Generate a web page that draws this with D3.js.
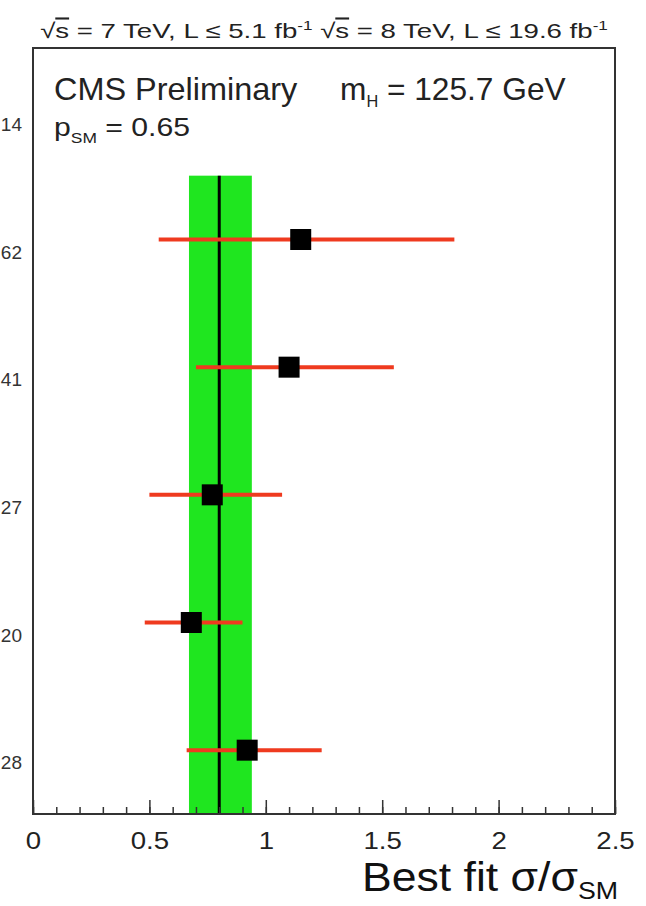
<!DOCTYPE html>
<html>
<head>
<meta charset="utf-8">
<script src="https://cdn.jsdelivr.net/npm/d3@7"></script>
<style>
  body { margin: 0; background: #fff; }
  svg { display: block; }
  text { font-family: "Liberation Sans", Arial, Helvetica, sans-serif; }
</style>
</head>
<body>
<svg id="chart" width="646" height="906"></svg>
<script>
// Signal strength per decay channel (best fit and asymmetric uncertainties)
const channels = ["Combined", "H→bb", "H→ττ", "H→γγ", "H→WW", "H→ZZ"];
const muHat    = [0.80, 1.15, 1.10, 0.77, 0.68, 0.92];
const errLow   = [0.13, 0.61, 0.40, 0.27, 0.20, 0.26];
const errHigh  = [0.14, 0.66, 0.45, 0.30, 0.22, 0.32];
// trailing digits of the per-channel uncertainty labels, which run off the left edge
const labelTails = ["14", "62", "41", "27", "20", "28"];
const majorTicks = [0, 0.5, 1, 1.5, 2, 2.5];
const minorTicks = d3.range(0, 26).map(i => i / 10);

const svg = d3.select("#chart");
const frame = { left: 33, right: 615, top: 48, bottom: 814 };

const x = d3.scaleLinear().domain([0, 2.5]).range([frame.left, frame.right]);
const y = d3.scaleBand().domain(channels).range([frame.top, frame.bottom]);
const rowMid = c => y(c) + y.bandwidth() / 2;

const rows = channels.map((c, i) => ({
  name: c, mu: muHat[i], lo: muHat[i] - errLow[i], hi: muHat[i] + errHigh[i], tail: labelTails[i]
}));
const combined = rows[0];
const fits = rows.slice(1);

// stretch a text horizontally about its anchor so it spans the given width
function fitWidth(sel, anchorX, width) {
  const w = sel.node().getBBox().width;
  const s = width / w;
  sel.attr("transform", `translate(${anchorX},0) scale(${s},1) translate(${-anchorX},0)`);
}

// combined uncertainty band and central value
svg.append("rect")
  .attr("x", x(combined.lo))
  .attr("width", x(combined.hi) - x(combined.lo))
  .attr("y", y(fits[0].name))
  .attr("height", frame.bottom - y(fits[0].name))
  .attr("fill", "#1fe61f");

svg.append("line")
  .attr("x1", x(combined.mu)).attr("x2", x(combined.mu))
  .attr("y1", y(fits[0].name)).attr("y2", frame.bottom)
  .attr("stroke", "#000").attr("stroke-width", 3);

// per-channel error bars and markers
const g = svg.append("g");
g.selectAll("line.err").data(fits).join("line")
  .attr("class", "err")
  .attr("x1", d => x(d.lo)).attr("x2", d => x(d.hi))
  .attr("y1", d => rowMid(d.name)).attr("y2", d => rowMid(d.name))
  .attr("stroke", "#ef3a1f").attr("stroke-width", 4);

const ms = 21;
g.selectAll("rect.pt").data(fits).join("rect")
  .attr("class", "pt")
  .attr("x", d => x(d.mu) - ms / 2).attr("y", d => rowMid(d.name) - ms / 2)
  .attr("width", ms).attr("height", ms)
  .attr("fill", "#000");

// x axis: minor and major ticks pointing into the frame
svg.append("g")
  .attr("transform", `translate(0,${frame.bottom})`)
  .call(d3.axisBottom(x).tickValues(minorTicks).tickSize(-7).tickFormat(""))
  .call(a => a.select(".domain").remove())
  .call(a => a.selectAll("line").attr("stroke", "#333").attr("stroke-width", 1.5));

svg.append("g")
  .attr("transform", `translate(0,${frame.bottom})`)
  .call(d3.axisBottom(x).tickValues(majorTicks).tickSize(-14).tickPadding(18)
        .tickFormat(d => d3.format("")(d)))
  .call(a => a.select(".domain").remove())
  .call(a => a.selectAll("line").attr("stroke", "#333").attr("stroke-width", 1.5))
  .call(a => a.selectAll("text").attr("font-size", 24).attr("fill", "#222")
        .attr("transform", "scale(1.15,1)")
        .style("font-family", '"Liberation Sans", Arial, sans-serif'));

// frame
svg.append("rect")
  .attr("x", frame.left).attr("y", frame.top)
  .attr("width", frame.right - frame.left).attr("height", frame.bottom - frame.top)
  .attr("fill", "none").attr("stroke", "#333").attr("stroke-width", 2);

// channel uncertainty labels (cut off on the left)
svg.append("g").selectAll("text").data(rows).join("text")
  .attr("x", 22).attr("y", d => rowMid(d.name) + 19)
  .attr("text-anchor", "end").attr("font-size", 19).attr("fill", "#333")
  .text(d => d.tail);

// header with luminosities
const head = svg.append("text").attr("x", 324).attr("y", 38)
  .attr("text-anchor", "middle").attr("font-size", 21).attr("fill", "#222");
head.append("tspan").text("√");
head.append("tspan").style("text-decoration", "overline").text("s");
head.append("tspan").text(" = 7 TeV, L ≤ 5.1 fb");
head.append("tspan").attr("font-size", 13).attr("dy", -8).text("-1");
head.append("tspan").attr("dy", 8).text("  √");
head.append("tspan").style("text-decoration", "overline").text("s");
head.append("tspan").text(" = 8 TeV, L ≤ 19.6 fb");
head.append("tspan").attr("font-size", 13).attr("dy", -8).text("-1");
fitWidth(head, 324, 568);

// in-frame annotations
const cms = svg.append("text").attr("x", 54).attr("y", 100)
  .attr("font-size", 31).attr("fill", "#222").text("CMS Preliminary");
fitWidth(cms, 54, 244);

const mh = svg.append("text").attr("x", 340).attr("y", 100)
  .attr("font-size", 31).attr("fill", "#222");
mh.append("tspan").text("m");
mh.append("tspan").attr("font-size", 16).attr("dy", 7).text("H");
mh.append("tspan").attr("dy", -7).text(" = 125.7 GeV");
fitWidth(mh, 340, 226);

const psm = svg.append("text").attr("x", 54).attr("y", 136)
  .attr("font-size", 26).attr("fill", "#222");
psm.append("tspan").text("p");
psm.append("tspan").attr("font-size", 15).attr("dy", 7).text("SM");
psm.append("tspan").attr("dy", -7).text(" = 0.65");
fitWidth(psm, 54, 136);

// axis title
const title = svg.append("text").attr("x", 618).attr("y", 891)
  .attr("text-anchor", "end").attr("font-size", 40).attr("fill", "#111");
title.append("tspan").text("Best fit σ/σ");
title.append("tspan").attr("font-size", 24).attr("dy", 8).text("SM");
fitWidth(title, 618, 256);
</script>
</body>
</html>
